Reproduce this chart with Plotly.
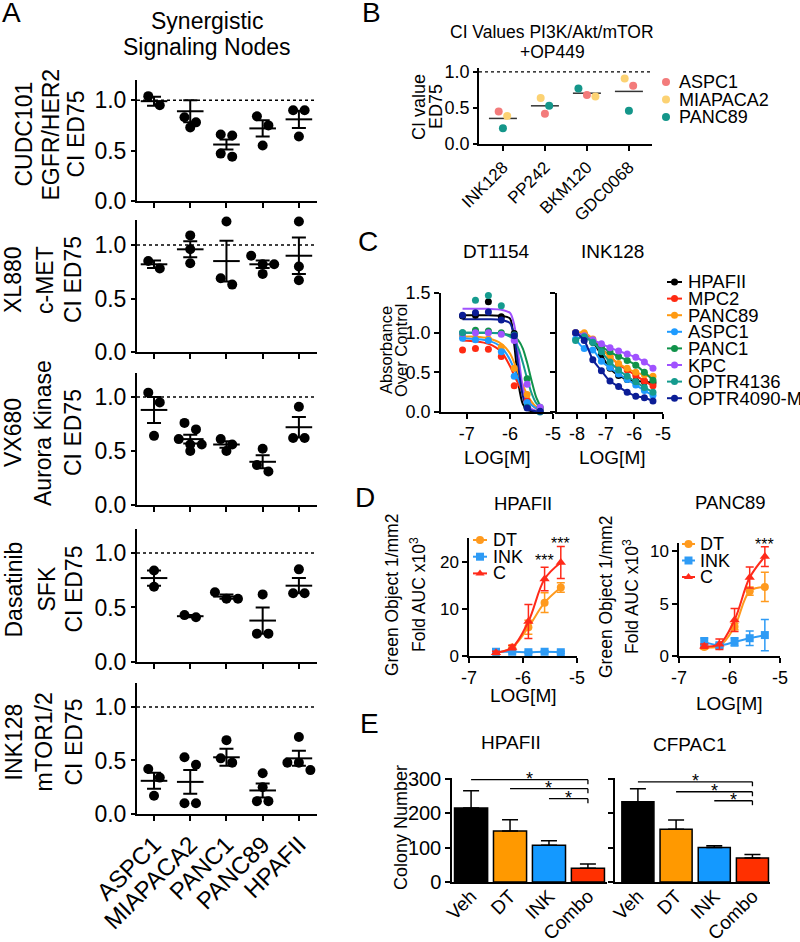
import plotly.graph_objects as go

W, H = 800, 942
FONT = "Arial, Liberation Sans, Helvetica, sans-serif"

# ---------------- Panel A data ----------------
A_cells = ["ASPC1", "MIAPACA2", "PANC1", "PANC89", "HPAFII"]
A_titles = [["CUDC101", "EGFR/HER2", "CI ED75"],
            ["XL880", "c-MET", "CI ED75"],
            ["VX680", "Aurora Kinase", "CI ED75"],
            ["Dasatinib", "SFK", "CI ED75"],
            ["INK128", "mTOR1/2", "CI ED75"]]

cudc101_points = [[0.95, 1.04], [0.83, 0.78, 0.73], [0.66, 0.65, 0.44, 0.47], [0.84, 0.75, 0.55], [0.90, 0.90, 0.64]]
cudc101_mean = [0.99, 0.89, 0.56, 0.72, 0.81]
cudc101_sem = [0.045, 0.11, 0.05, 0.08, 0.085]

xl880_points = [[0.78, 0.85], [1.09, 0.96, 0.83], [1.22, 0.63, 0.69], [0.90, 0.82, 0.82, 0.73], [1.22, 0.80, 0.67]]
xl880_mean = [0.82, 0.96, 0.85, 0.82, 0.90]
xl880_sem = [0.035, 0.075, 0.19, 0.035, 0.17]

vx680_points = [[1.04, 0.95, 0.64], [0.76, 0.70, 0.56, 0.61, 0.50, 0.56], [0.61, 0.50, 0.56], [0.52, 0.31, 0.37], [0.91, 0.62, 0.62]]
vx680_mean = [0.88, 0.61, 0.56, 0.40, 0.72]
vx680_sem = [0.12, 0.04, 0.03, 0.06, 0.095]

dasatinib_points = [[0.84, 0.69], [0.41, 0.43], [0.64, 0.58, 0.58], [0.62, 0.26, 0.26], [0.85, 0.63, 0.63]]
dasatinib_mean = [0.77, 0.42, 0.60, 0.38, 0.70]
dasatinib_sem = [0.07, 0.01, 0.02, 0.12, 0.07]

ink128_points = [[0.42, 0.34, 0.17], [0.53, 0.46, 0.10, 0.10], [0.69, 0.52, 0.48], [0.38, 0.25, 0.12, 0.12], [0.72, 0.48, 0.48, 0.41]]
ink128_mean = [0.31, 0.30, 0.53, 0.22, 0.52]
ink128_sem = [0.075, 0.11, 0.08, 0.065, 0.07]

A_points = [cudc101_points, xl880_points, vx680_points, dasatinib_points, ink128_points]
A_means = [cudc101_mean, xl880_mean, vx680_mean, dasatinib_mean, ink128_mean]
A_sems = [cudc101_sem, xl880_sem, vx680_sem, dasatinib_sem, ink128_sem]

# ---------------- Panel B data ----------------
B_drugs = ["INK128", "PP242", "BKM120", "GDC0068"]
B_lines = ["ASPC1", "MIAPACA2", "PANC89"]
B_aspc1 = [0.45, 0.42, 0.68, 0.81]
B_miapaca2 = [0.39, 0.64, 0.66, 0.91]
B_panc89 = [0.22, 0.53, 0.77, 0.46]
B_means = [0.355, 0.53, 0.705, 0.73]
B_colors = ["#F37B7B", "#FCD273", "#14968A"]

# ---------------- Panel C data ----------------
C_lines = ["HPAFII", "MPC2", "PANC89", "ASPC1", "PANC1", "KPC", "OPTR4136", "OPTR4090-M"]
C_colors = ["#000000", "#FF2A12", "#FF9A12", "#1E9BFF", "#10924A", "#A052FF", "#159B8E", "#0B1D96"]

dt_dose = [-7.1, -6.8, -6.5, -6.2, -5.9, -5.6, -5.3]
dt_resp = [
    [1.21, 1.22, 1.39, 1.20, 0.99, 0.06, 0.02],
    [0.78, 0.80, 0.79, 0.70, 0.33, 0.14, 0.03],
    [0.96, 0.93, 0.92, 0.82, 0.55, 0.22, 0.05],
    [0.93, 0.91, 0.90, 0.76, 0.45, 0.12, 0.03],
    [1.00, 1.03, 1.02, 1.00, 0.96, 0.42, 0.06],
    [0.99, 1.00, 1.00, 0.98, 0.90, 0.35, 0.06],
    [1.00, 1.41, 1.47, 1.34, 0.97, 0.06, 0.00],
    [1.22, 1.25, 1.26, 1.16, 0.96, 0.05, 0.01],
]
dt_fit_dose = [-7.1, -6.8, -6.5, -6.2, -6.0, -5.9, -5.8, -5.7, -5.6, -5.5, -5.4, -5.3]
dt_fit = [
    [1.22, 1.22, 1.22, 1.21, 1.18, 0.85, 0.35, 0.10, 0.03, 0.01, 0.00, 0.00],
    [0.90, 0.89, 0.86, 0.76, 0.58, 0.46, 0.35, 0.25, 0.16, 0.09, 0.05, 0.03],
    [0.95, 0.95, 0.93, 0.86, 0.74, 0.62, 0.48, 0.34, 0.22, 0.13, 0.07, 0.04],
    [0.93, 0.92, 0.90, 0.82, 0.66, 0.54, 0.40, 0.27, 0.16, 0.09, 0.05, 0.02],
    [1.00, 1.00, 1.00, 0.99, 0.97, 0.95, 0.90, 0.80, 0.62, 0.40, 0.20, 0.08],
    [1.30, 1.30, 1.30, 1.29, 1.25, 1.10, 0.70, 0.30, 0.10, 0.04, 0.02, 0.01],
    [1.00, 1.00, 1.00, 0.99, 0.95, 0.90, 0.80, 0.62, 0.42, 0.24, 0.12, 0.06],
    [1.17, 1.17, 1.17, 1.16, 1.12, 0.95, 0.55, 0.20, 0.06, 0.02, 0.01, 0.00],
]

ink_dose = [-8.05, -7.75, -7.45, -7.15, -6.85, -6.55, -6.25, -5.95, -5.65, -5.35]
ink_resp = [
    [1.00, 0.98, 0.88, 0.72, 0.55, 0.46, 0.41, 0.39, 0.38, 0.37],
    [1.00, 0.97, 0.90, 0.80, 0.70, 0.60, 0.53, 0.46, 0.39, 0.33],
    [1.00, 1.00, 0.92, 0.80, 0.69, 0.61, 0.55, 0.50, 0.47, 0.45],
    [0.92, 0.80, 0.78, 0.64, 0.56, 0.48, 0.41, 0.34, 0.27, 0.21],
    [1.00, 0.95, 0.88, 0.82, 0.76, 0.70, 0.65, 0.59, 0.50, 0.40],
    [1.00, 0.96, 0.91, 0.86, 0.81, 0.77, 0.73, 0.69, 0.63, 0.55],
    [0.90, 0.95, 0.88, 0.76, 0.63, 0.53, 0.45, 0.38, 0.31, 0.25],
    [1.00, 0.90, 0.66, 0.52, 0.39, 0.32, 0.25, 0.20, 0.18, 0.14],
]

# ---------------- Panel D data ----------------
D_groups = ["DT", "INK", "C"]
D_colors = ["#FF9A1E", "#2E9BF5", "#FF2A1A"]
D_symbols = ["circle", "square", "triangle-up"]
D_dose = [-6.5, -6.2, -5.9, -5.6, -5.3]
hpafii_D_mean = [[0.7, 1.8, 6.1, 11.3, 14.5], [0.9, 0.9, 0.8, 0.9, 0.8], [0.7, 1.8, 7.3, 16.3, 19.8]]
hpafii_D_err = [[0.3, 0.4, 1.5, 2.1, 1.0], [0.2, 0.2, 0.2, 0.2, 0.2], [0.3, 0.5, 3.6, 2.5, 3.4]]
panc89_D_mean = [[0.87, 0.94, 2.8, 6.2, 6.6], [1.35, 1.03, 1.35, 1.7, 2.0], [0.94, 1.13, 3.45, 7.5, 9.5]]
panc89_D_err = [[0.2, 0.2, 0.3, 0.4, 1.4], [0.4, 0.2, 0.4, 0.7, 1.5], [0.2, 0.5, 1.1, 1.0, 0.95]]

# ---------------- Panel E data ----------------
E_groups = ["Veh", "DT", "INK", "Combo"]
E_colors = ["#000000", "#FF9900", "#1499FF", "#FF3000"]
hpafii_E = [215, 148, 107, 40]
hpafii_E_err = [50, 33, 13, 12]
cfpac1_E = [233, 153, 100, 70]
cfpac1_E_err = [38, 27, 5, 10]

# ================= figure =================
fig = go.Figure()
layout = dict(width=W, height=H, margin=dict(l=0, r=0, t=0, b=0, autoexpand=False),
              paper_bgcolor="white", plot_bgcolor="rgba(0,0,0,0)", showlegend=False)
shapes, anns = [], []


def ids(k):
    s = "" if k == 1 else str(k)
    return "x" + s, "y" + s, "xaxis" + s, "yaxis" + s


def axis_style(lw=2, size=18, ticklen=5):
    return dict(showline=True, linecolor="black", linewidth=lw, ticks="outside",
                tickcolor="black", tickwidth=lw, ticklen=ticklen, showgrid=False,
                zeroline=False, fixedrange=True, automargin=False,
                tickfont=dict(family=FONT, size=size, color="black"))


def text(s, px, py, size, angle=0, xanchor="center", yanchor="middle"):
    anns.append(dict(text=s, x=px / W, y=1 - py / H, xref="paper", yref="paper",
                     showarrow=False, textangle=angle, xanchor=xanchor, yanchor=yanchor,
                     font=dict(family=FONT, size=size, color="black")))


def swarm(vals, ppu, ppc, row_tol, spacing):
    order = sorted(range(len(vals)), key=lambda i: -vals[i])
    offs = [0.0] * len(vals)
    rows = []
    for i in order:
        if rows and (vals[rows[-1][0]] - vals[i]) * ppu <= row_tol:
            rows[-1].append(i)
        else:
            rows.append([i])
    for r in rows:
        k = len(r)
        for j, i in enumerate(r):
            offs[i] = (j - (k - 1) / 2) * spacing / ppc
    return offs


def domx(a, b):
    return [a / W, b / W]


def domy(top, bot):
    return [1 - bot / H, 1 - top / H]


# ---------- Panel A ----------
A_x = (137, 317)
A_xr = [-0.47, 4.5]
A_rows = [(80, 201, 1.2), (220, 352, 1.234), (373, 505, 1.222), (529, 662, 1.22), (683, 814, 1.224)]
A_title_x = [[23, 50, 75], [13, 45, 73], [13, 43, 73], [13, 46, 73], [13, 43, 73]]
for k in range(5):
    xa, ya, xl, yl = ids(k + 1)
    top, bot, ymax = A_rows[k]
    ppu = (bot - top) / ymax
    ppc = (A_x[1] - A_x[0]) / (A_xr[1] - A_xr[0])
    xs, ys = [], []
    for j, vals in enumerate(A_points[k]):
        offs = swarm(vals, ppu, ppc, 10, 11.5)
        xs += [j + o for o in offs]
        ys += vals
    fig.add_trace(go.Scatter(x=xs, y=ys, mode="markers", xaxis=xa, yaxis=ya, cliponaxis=False,
                             marker=dict(color="black", size=10), hoverinfo="skip"))
    fig.add_trace(go.Scatter(x=list(range(5)), y=A_means[k], mode="markers", xaxis=xa, yaxis=ya,
                             cliponaxis=False,
                             marker=dict(symbol="line-ew", size=19, color="black",
                                         line=dict(width=2, color="black")),
                             error_y=dict(type="data", array=A_sems[k], color="black",
                                          thickness=2, width=7)))
    xax = axis_style(2, 23, 5)
    xax.update(domain=domx(*A_x), range=A_xr, anchor=ya, tickvals=list(range(5)),
               ticktext=A_cells, showticklabels=(k == 4), tickangle=-45,
               tickfont=dict(family=FONT, size=24, color="black"))
    yax = axis_style(2, 23, 4)
    yax.update(domain=domy(top, bot), range=[0, ymax], anchor=xa,
               tickvals=[0, 0.5, 1.0], ticktext=["0.0", "0.5", "1.0"])
    layout[xl], layout[yl] = xax, yax
    shapes.append(dict(type="line", xref=xa + " domain", yref=ya, x0=0, x1=1, y0=1, y1=1,
                       line=dict(color="black", width=1.5, dash="dot")))
    cy = (top + bot) / 2 - 6
    for ln, lx in zip(A_titles[k], A_title_x[k]):
        text(ln, lx, cy, 23, angle=-90)

text("Synergistic", 207, 21, 23)
text("Signaling Nodes", 207, 47, 23)

# ---------- Panel B ----------
xa, ya, xl, yl = ids(6)
B_vals = [B_aspc1, B_miapaca2, B_panc89]
B_xr = [-0.57, 3.55]
b_ppc = (652 - 479) / (B_xr[1] - B_xr[0])
b_offs = [[0.0] * 4 for _ in B_lines]
for d in range(4):
    col = [B_vals[s][d] for s in range(3)]
    offs = swarm(col, 72, b_ppc, 10, 8.5)
    for s in range(3):
        b_offs[s][d] = offs[s]
fig.add_trace(go.Scatter(x=list(range(4)), y=B_means, mode="markers", xaxis=xa, yaxis=ya,
                         marker=dict(symbol="line-ew", size=20, color="#333333",
                                     line=dict(width=1.5, color="#333333"))))
for s in range(3):
    fig.add_trace(go.Scatter(x=[d + b_offs[s][d] for d in range(4)], y=B_vals[s], mode="markers",
                             xaxis=xa, yaxis=ya, name=B_lines[s],
                             marker=dict(color=B_colors[s], size=8)))
xax = axis_style(1.5, 17, 5)
xax.update(domain=domx(479, 652), range=B_xr, anchor=ya, tickvals=list(range(4)),
           ticktext=B_drugs, tickangle=-45)
yax = axis_style(1.5, 18, 4)
yax.update(domain=domy(68, 144), range=[0, 1.055], anchor=xa, tickvals=[0, 0.5, 1.0],
           ticktext=["0.0", "0.5", "1.0"])
layout[xl], layout[yl] = xax, yax
shapes.append(dict(type="line", xref=xa + " domain", yref=ya, x0=0, x1=1, y0=1, y1=1,
                   line=dict(color="black", width=1.2, dash="dot")))
text("CI Values PI3K/Akt/mTOR", 552, 32, 17.5)
text("+OP449", 552, 52, 17.5)
text("CI value", 419, 107, 18, angle=-90)
text("ED75", 436, 107, 18, angle=-90)

# ---------- Panel C ----------
xa, ya, xl, yl = ids(7)
for s in range(8):
    fig.add_trace(go.Scatter(x=dt_fit_dose, y=dt_fit[s], mode="lines", xaxis=xa, yaxis=ya,
                             line=dict(color=C_colors[s], width=2, shape="spline", smoothing=0.8)))
for s in range(8):
    fig.add_trace(go.Scatter(x=dt_dose, y=dt_resp[s], mode="markers", xaxis=xa, yaxis=ya,
                             cliponaxis=False, marker=dict(color=C_colors[s], size=7)))
xax = axis_style(1.5, 18, 5)
xax.update(domain=domx(441, 553), range=[-7.6, -5], anchor=ya, tickvals=[-7, -6, -5],
           ticktext=["-7", "-6", "-5"])
yax = axis_style(1.5, 18, 5)
yax.update(domain=domy(293, 412), range=[0, 1.5], anchor=xa, tickvals=[0, 0.5, 1.0, 1.5],
           ticktext=["0.0", "0.5", "1.0", "1.5"])
layout[xl], layout[yl] = xax, yax

xa, ya, xl, yl = ids(8)
for s in range(8):
    fig.add_trace(go.Scatter(x=ink_dose, y=ink_resp[s], mode="lines+markers", xaxis=xa, yaxis=ya,
                             cliponaxis=False,
                             line=dict(color=C_colors[s], width=2, shape="spline", smoothing=1.0),
                             marker=dict(color=C_colors[s], size=7)))
xax = axis_style(1.5, 18, 5)
xax.update(domain=domx(557, 663), range=[-8.7, -5], anchor=ya, tickvals=[-8, -7, -6, -5],
           ticktext=["-8", "-7", "-6", "-5"])
yax = axis_style(1.5, 18, 5)
yax.update(domain=domy(293, 412), range=[0, 1.5], anchor=xa, tickvals=[0, 0.5, 1.0, 1.5],
           showticklabels=False)
layout[xl], layout[yl] = xax, yax
text("DT1154", 496, 252, 19)
text("INK128", 612, 252, 19)
text("LOG[M]", 497, 457, 19)
text("LOG[M]", 612, 457, 19)
text("Absorbance", 386, 350, 16.5, angle=-90)
text("Over Control", 401, 350, 16.5, angle=-90)

# ---------- Panel D ----------
D_sets = [(9, hpafii_D_mean, hpafii_D_err, (469, 577), [0, 25], [0, 10, 20]),
          (10, panc89_D_mean, panc89_D_err, (679, 780), [0, 10.8], [0, 5, 10])]
for k, means, errs, xpx, yr, ytv in D_sets:
    xa, ya, xl, yl = ids(k)
    for g in range(3):
        fig.add_trace(go.Scatter(x=D_dose, y=means[g], mode="lines+markers", xaxis=xa, yaxis=ya,
                                 cliponaxis=False,
                                 line=dict(color=D_colors[g], width=2, shape="spline", smoothing=1.0),
                                 marker=dict(color=D_colors[g], size=8 if g < 2 else 9,
                                             symbol=D_symbols[g]),
                                 error_y=dict(type="data", array=errs[g], color=D_colors[g],
                                              thickness=1.5, width=4)))
    xax = axis_style(1.5, 18, 5)
    xax.update(domain=domx(*xpx), range=[-7, -5], anchor=ya, tickvals=[-7, -6, -5],
               ticktext=["-7", "-6", "-5"])
    yax = axis_style(1.5, 17, 5)
    top = 538 if k == 9 else 543
    yax.update(domain=domy(top, 656), range=yr, anchor=xa, tickvals=ytv)
    layout[xl], layout[yl] = xax, yax

anns.append(dict(text="***", x=-5.3, y=23.9, xref="x9", yref="y9", showarrow=False,
                 font=dict(family=FONT, size=16, color="black")))
anns.append(dict(text="***", x=-5.6, y=20.3, xref="x9", yref="y9", showarrow=False,
                 font=dict(family=FONT, size=16, color="black")))
anns.append(dict(text="***", x=-5.3, y=10.7, xref="x10", yref="y10", showarrow=False,
                 font=dict(family=FONT, size=16, color="black")))
text("HPAFII", 523, 503, 18.5)
text("PANC89", 730, 502, 18.5)
text("LOG[M]", 523, 695, 19)
text("LOG[M]", 729, 703, 19)
text("Green Object 1/mm2", 392, 595, 17.5, angle=-90)
text("Fold AUC x10<sup>3</sup>", 418, 595, 17.5, angle=-90)
text("Green Object 1/mm2", 606, 597, 17.5, angle=-90)
text("Fold AUC x10<sup>3</sup>", 631, 597, 17.5, angle=-90)

# ---------- Panel E ----------
E_sets = [(11, hpafii_E, hpafii_E_err, (452, 607), [-0.49, 3.49], 0.85, True, [297, 271, 242]),
          (12, cfpac1_E, cfpac1_E_err, (615, 770), [-0.6, 3.46], 0.84, False, [291, 262, 236])]
for k, vals, errs, xpx, xr, bw, lab, levels in E_sets:
    xa, ya, xl, yl = ids(k)
    fig.add_trace(go.Bar(x=list(range(4)), y=vals, width=bw, xaxis=xa, yaxis=ya,
                         marker=dict(color=E_colors, line=dict(color="black", width=1.5)),
                         error_y=dict(type="data", array=errs, arrayminus=[0] * 4, symmetric=False,
                                      color="black", thickness=1.5, width=8)))
    xax = axis_style(1.5, 19, 0)
    xax.update(domain=domx(*xpx), range=xr, anchor=ya, tickvals=list(range(4)),
               ticktext=E_groups, tickangle=-45, ticks="", ticklabelstandoff=-6)
    yax = axis_style(1.5, 20, 5)
    yax.update(domain=domy(778, 882), range=[0, 302], anchor=xa, tickvals=[0, 100, 200, 300],
               showticklabels=lab)
    layout[xl], layout[yl] = xax, yax
    for i, lev in enumerate(levels):
        shapes.append(dict(type="line", xref=xa, yref=ya, x0=i, x1=3, y0=lev, y1=lev,
                           line=dict(color="black", width=1.3)))
        shapes.append(dict(type="line", xref=xa, yref=ya, x0=3, x1=3, y0=lev, y1=lev - 13,
                           line=dict(color="black", width=1.3)))
        anns.append(dict(text="*", x=(i + 3) / 2, y=lev, xref=xa, yref=ya, showarrow=False,
                         yshift=1, font=dict(family=FONT, size=18, color="black")))
text("HPAFII", 511, 742, 19)
text("CFPAC1", 690, 744, 19)
text("Colony Number", 401, 828, 18, angle=-90)

# ---------- panel letters ----------
for letter, px, py in [("A", 11, 13), ("B", 371, 13), ("C", 368, 242), ("D", 365, 497), ("E", 369, 723)]:
    text(letter, px, py, 28)

# ---------- legends (overlay axis in page pixels) ----------
xa, ya, xl, yl = ids(13)
layout[xl] = dict(domain=[0, 1], range=[0, W], visible=False, fixedrange=True, anchor=ya)
layout[yl] = dict(domain=[0, 1], range=[H, 0], visible=False, fixedrange=True, anchor=xa)


def legend_item(name, color, symbol, mx, my, msize, half, tx, fsize):
    if half:
        fig.add_trace(go.Scatter(x=[mx - half, mx + half], y=[my, my], mode="lines",
                                 xaxis=xa, yaxis=ya, line=dict(color=color, width=2),
                                 hoverinfo="skip"))
    fig.add_trace(go.Scatter(x=[mx], y=[my], mode="markers", xaxis=xa, yaxis=ya,
                             marker=dict(color=color, size=msize, symbol=symbol), hoverinfo="skip"))
    text(name, tx, my, fsize, xanchor="left")


for s, name in enumerate(B_lines):
    legend_item(name, B_colors[s], "circle", 666, 82 + 17.5 * s, 8, 0, 677, 18)
for s, name in enumerate(C_lines):
    legend_item(name, C_colors[s], "circle", 674.5, 282 + 16.6 * s, 7, 7.5, 686, 18.5)
for g, name in enumerate(D_groups):
    legend_item(name, D_colors[g], D_symbols[g], 480, 540 + 16.7 * g, 8, 7, 491, 18)
    legend_item(name, D_colors[g], D_symbols[g], 688.5, 544 + 16.5 * g, 8, 6.5, 698, 18)

layout["shapes"] = shapes
layout["annotations"] = anns
fig.update_layout(**layout)
fig.write_html("out.html", config={"displayModeBar": False},
               post_script="document.body.style.margin='0';document.body.style.overflow='hidden';")
